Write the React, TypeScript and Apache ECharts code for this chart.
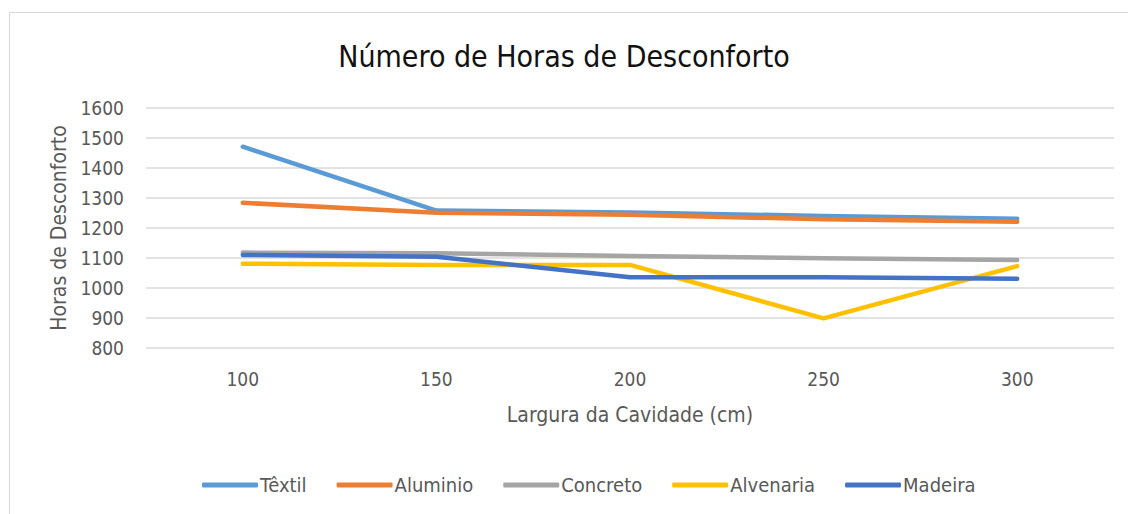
import React, { useEffect, useRef } from "react";
import * as echarts from "echarts";

const categories = ["100", "150", "200", "250", "300"];
const textil = [1471, 1258, 1252, 1240, 1231];
const aluminio = [1284, 1251, 1244, 1229, 1221];
const concreto = [1118, 1116, 1107, 1099, 1093];
const alvenaria = [1081, 1077, 1077, 899, 1073];
const madeira = [1110, 1104, 1036, 1036, 1031];

const seriesNames = ["Têxtil", "Aluminio", "Concreto", "Alvenaria", "Madeira"];
const seriesData = [textil, aluminio, concreto, alvenaria, madeira];
const colors = ["#5B9BD5", "#ED7D31", "#A5A5A5", "#FFC000", "#4472C4"];

const FONT = "'Liberation Sans Narrow', 'DejaVu Sans Condensed', 'Liberation Sans', sans-serif";

export default function App() {
  const ref = useRef<HTMLDivElement>(null);
  useEffect(() => {
    if (!ref.current) return;
    const chart = echarts.init(ref.current, undefined, { renderer: "svg" });
    chart.setOption({
      animation: false,
      backgroundColor: "#ffffff",
      color: colors,
      textStyle: { fontFamily: FONT },
      graphic: [
        {
          type: "polyline",
          silent: true,
          shape: { points: [[9.5, 514], [9.5, 12.5], [1128, 12.5]] },
          style: { stroke: "#d9d9d9", lineWidth: 1, fill: "none" },
        },
      ],
      title: {
        text: "Número de Horas de Desconforto",
        left: "center",
        top: 36,
        textStyle: { fontFamily: FONT, fontSize: 30, fontWeight: "normal", color: "#111111" },
      },
      legend: {
        top: 470,
        left: 197,
        itemWidth: 56,
        itemHeight: 5,
        itemGap: 30,
        icon: "roundRect",
        textStyle: { fontFamily: FONT, fontSize: 20, color: "#595959", padding: [0, 0, 0, -3] },
        data: seriesNames,
      },
      grid: { left: 146, right: 14, top: 108, bottom: 166, containLabel: false },
      xAxis: {
        type: "category",
        data: categories,
        boundaryGap: true,
        name: "Largura da Cavidade (cm)",
        nameLocation: "middle",
        nameGap: 56,
        nameTextStyle: { fontFamily: FONT, fontSize: 21, color: "#595959" },
        axisLine: { show: false },
        axisTick: { show: false },
        axisLabel: { fontFamily: FONT, fontSize: 19, color: "#595959", margin: 21 },
      },
      yAxis: {
        type: "value",
        min: 800,
        max: 1600,
        interval: 100,
        name: "Horas de Desconforto",
        nameLocation: "middle",
        nameGap: 75,
        nameTextStyle: { fontFamily: FONT, fontSize: 21, color: "#595959" },
        axisLine: { show: false },
        axisTick: { show: false },
        axisLabel: {
          fontFamily: FONT,
          fontSize: 19,
          color: "#595959",
          margin: 22,
          formatter: (v: number) => String(v),
        },
        splitLine: { lineStyle: { color: "#d9d9d9", width: 1.5 } },
      },
      series: seriesData.map((d, i) => ({
        name: seriesNames[i],
        type: "line",
        data: d,
        symbol: "none",
        lineStyle: { width: 4.5, color: colors[i], cap: "round", join: "round" },
        itemStyle: { color: colors[i] },
      })),
    });
    return () => chart.dispose();
  }, []);
  return (
    <div
      ref={ref}
      style={{ position: "fixed", left: 0, top: 0, width: 1128, height: 514 }}
    />
  );
}
